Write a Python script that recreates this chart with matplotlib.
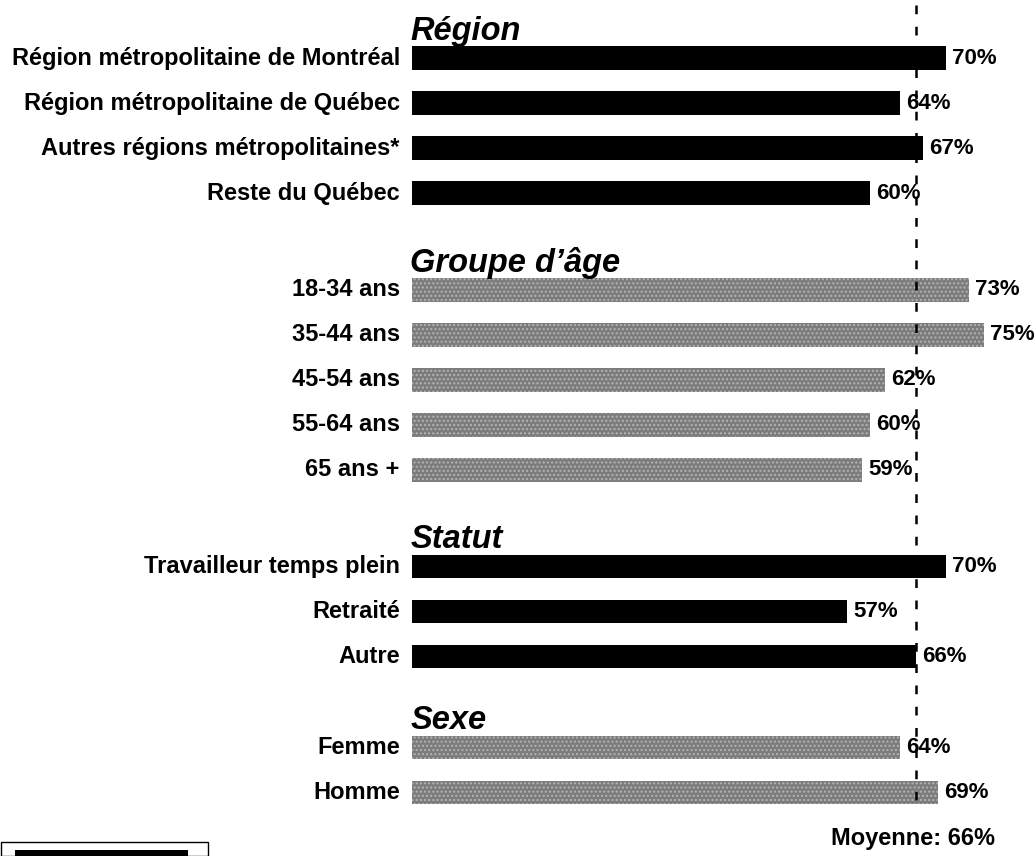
import numpy as np
import matplotlib.pyplot as plt
from matplotlib.patches import Rectangle

plt.rcParams['font.family'] = ['Liberation Sans', 'DejaVu Sans']

# groupes, libellés et valeurs (%)
groupes = ['Région', 'Groupe d\u2019âge', 'Statut', 'Sexe']
libelles = [
    ['Région métropolitaine de Montréal', 'Région métropolitaine de Québec',
     'Autres régions métropolitaines*', 'Reste du Québec'],
    ['18-34 ans', '35-44 ans', '45-54 ans', '55-64 ans', '65 ans +'],
    ['Travailleur temps plein', 'Retraité', 'Autre'],
    ['Femme', 'Homme'],
]
valeurs = [
    [70, 64, 67, 60],
    [73, 75, 62, 60, 59],
    [70, 57, 66],
    [64, 69],
]
couleurs = ['black', '#7c7c7c', 'black', '#7c7c7c']
ecarts = [0, 2.15, 2.15, 2.02]   # espace avant chaque groupe (en rangées)
moyenne = 66

fig = plt.figure(figsize=(10.36, 8.56), dpi=100)
ax = fig.add_axes([412 / 1036, 0, 1 - 412 / 1036, 1])
ax.set_xlim(0, (1036 - 412) / 7.63)
ax.set_ylim(856 / 45, 0)
ax.axis('off')

y = 1.29
for titre, labs, vals, col, ec in zip(groupes, libelles, valeurs, couleurs, ecarts):
    if ec:
        y += ec - 1
    ax.text(-0.2, y - 0.6, titre, fontsize=23.5, fontweight='bold', fontstyle='italic',
            ha='left', va='center')
    for lab, v in zip(labs, vals):
        if col == 'black':
            ax.barh(y, v, height=0.53, color=col, edgecolor='none')
        else:
            ax.barh(y, v, height=0.53, facecolor=col, edgecolor='#b4b4b4',
                    linewidth=0, hatch='....')
        ax.text(-1.6, y, lab, fontsize=17, fontweight='bold', ha='right', va='center',
                clip_on=False)
        ax.text(v + 0.8, y, f'{v}%', fontsize=16, fontweight='bold', ha='left',
                va='center', zorder=5)
        y += 1

ax.plot([moyenne, moyenne], [0.1, 18.05], color='black', lw=1.8,
        linestyle=(0, (3.5, 5)), zorder=4)
ax.text(moyenne - 0.3, 18.64, f'Moyenne: {moyenne}%', fontsize=17, fontweight='bold',
        ha='center', va='center')

# cadre de légende (coupé en bas)
fig.patches.append(Rectangle((1 / 1036, 0), 207 / 1036, 14 / 856, transform=fig.transFigure,
                             fill=False, edgecolor='black', lw=1))
fig.patches.append(Rectangle((15 / 1036, 0), 173 / 1036, 6 / 856, transform=fig.transFigure,
                             facecolor='black', edgecolor='none'))

fig.savefig('out.png', dpi=100, facecolor='white')
